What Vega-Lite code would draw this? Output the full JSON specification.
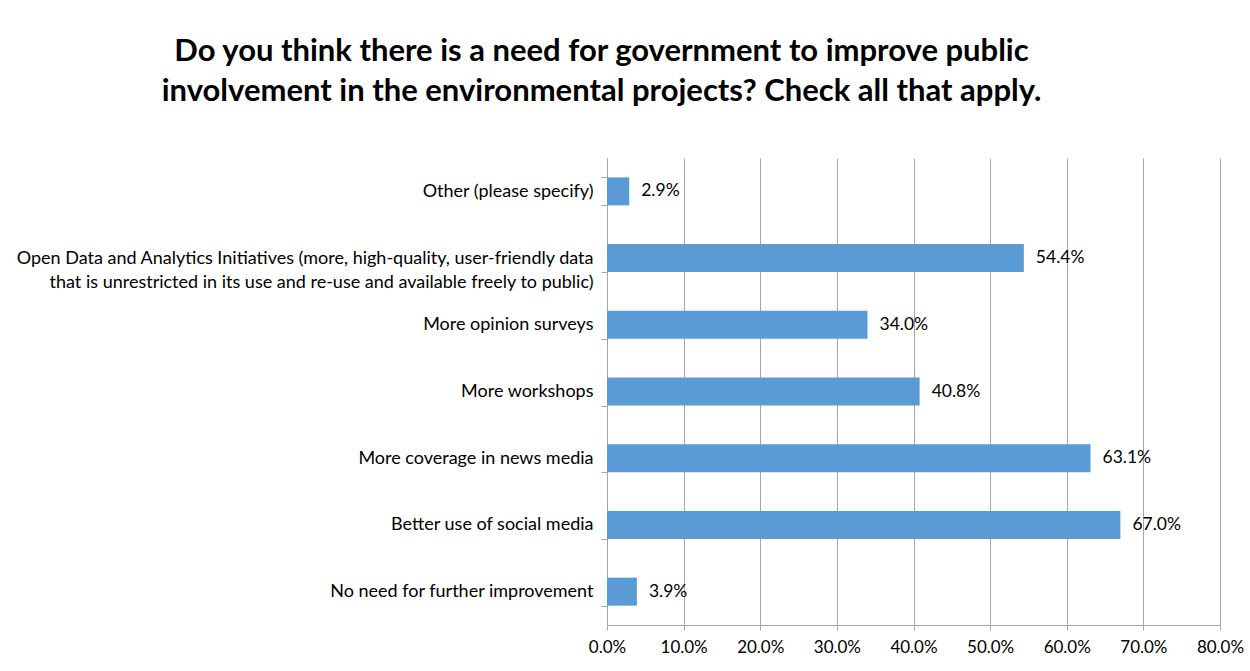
{
  "$schema": "https://vega.github.io/schema/vega-lite/v6.json",
  "autosize": "none",
  "width": 613,
  "height": 467,
  "padding": {"left": 607, "top": 158, "right": 30, "bottom": 46},
  "background": "white",
  "title": {
    "text": ["Do you think there is a need for government to improve public", "involvement in the environmental projects? Check all that apply."],
    "font": "Lato",
    "fontSize": 31,
    "fontWeight": "bold",
    "color": "#000000",
    "anchor": "middle",
    "dx": -312,
    "offset": 41,
    "lineHeight": 40
  },
  "data": {
    "values": [
      {"option": "Other (please specify)", "pct": 0.029},
      {"option": "Open Data and Analytics Initiatives (more, high-quality, user-friendly data|that is unrestricted in its use and re-use and available freely to public)", "pct": 0.544},
      {"option": "More opinion surveys", "pct": 0.340},
      {"option": "More workshops", "pct": 0.408},
      {"option": "More coverage in news media", "pct": 0.631},
      {"option": "Better use of social media", "pct": 0.670},
      {"option": "No need for further improvement", "pct": 0.039}
    ]
  },
  "encoding": {
    "y": {
      "field": "option",
      "type": "nominal",
      "sort": null,
      "title": null,
      "scale": {"paddingInner": 0.58, "paddingOuter": 0.29},
      "axis": {
        "labelExpr": "split(datum.label, '|')",
        "labelFont": "Lato",
        "labelFontSize": 18,
        "labelColor": "#000000",
        "labelLimit": 700,
        "labelPadding": 8,
        "labelLineHeight": 24,
        "tickBand": "extent",
        "tickSize": 6,
        "tickColor": "#a6a6a6",
        "domainColor": "#a6a6a6",
        "grid": false
      }
    },
    "x": {
      "field": "pct",
      "type": "quantitative",
      "title": null,
      "scale": {"domain": [0, 0.8], "nice": false},
      "axis": {
        "values": [0, 0.1, 0.2, 0.3, 0.4, 0.5, 0.6, 0.7, 0.8],
        "format": ".1%",
        "labelFont": "Lato",
        "labelFontSize": 17,
        "labelColor": "#000000",
        "labelPadding": 9,
        "labelFlush": false,
        "labelOverlap": false,
        "labelBound": false,
        "tickSize": 5,
        "tickColor": "#a6a6a6",
        "domainColor": "#a6a6a6",
        "grid": true,
        "gridColor": "#a6a6a6",
        "gridWidth": 1
      }
    }
  },
  "layer": [
    {"mark": {"type": "bar", "color": "#5b9bd5"}},
    {
      "mark": {"type": "text", "align": "left", "dx": 12, "font": "Lato", "fontSize": 17.5, "color": "#000000"},
      "encoding": {"text": {"field": "pct", "type": "quantitative", "format": ".1%"}}
    }
  ],
  "config": {"view": {"stroke": null}}
}
